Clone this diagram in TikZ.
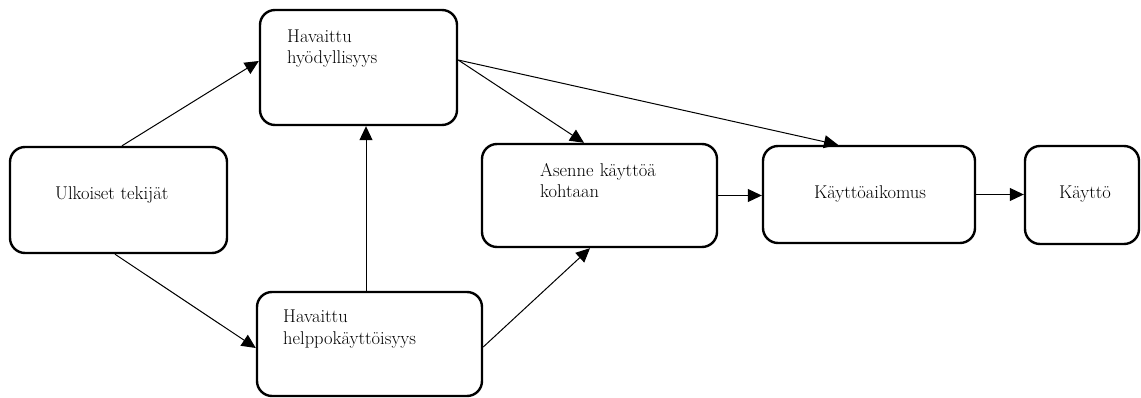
\documentclass[tikz,border=0pt]{standalone}
\usepackage{fontspec}
\setmainfont{Latin Modern Roman}
\usetikzlibrary{arrows.meta,calc}
\begin{document}
\begin{tikzpicture}[x=1pt,y=-1pt,
  box/.style={draw,line width=2.4pt,rounded corners=15pt,rectangle,inner sep=0pt},
  lbl/.style={inner sep=0pt,font=\fontsize{18.5}{21}\selectfont},
  mlbl/.style={lbl,text width=200pt,align=left,anchor=base west},
  conn/.style={line width=1pt,-{Triangle[length=14pt,width=13pt]}}]
\useasboundingbox (0,0) rectangle (1141,398);
\node[box,minimum width=217pt,minimum height=106pt] (U) at (118.5,200) {};
\node[box,minimum width=197pt,minimum height=115pt] (H) at (358.5,67.5) {};
\node[box,minimum width=225pt,minimum height=104pt] (E) at (369.5,344) {};
\node[box,minimum width=235pt,minimum height=103pt] (A) at (599.5,195.5) {};
\node[box,minimum width=212pt,minimum height=97pt] (K) at (869,194.5) {};
\node[box,minimum width=114pt,minimum height=98pt] (KK) at (1082,195) {};
\node[lbl,anchor=base west] (tU) at (55,200) {Ulkoiset tekijät};
\node[mlbl] (tH) at (287,43) {Havaittu\\hyödyllisyys};
\node[mlbl] (tE) at (283,323) {Havaittu\\helppokäyttöisyys};
\node[mlbl] (tA) at (540,177) {Asenne käyttöä\\kohtaan};
\node[lbl,anchor=base] (tK) at (870,199) {Käyttöaikomus};
\node[lbl,anchor=base] (tKK) at (1085,199) {Käyttö};
\coordinate (hs) at ([yshift=7.5pt]H.east);
\draw[conn] ([xshift=3.5pt]U.north) -- ([yshift=6.5pt]H.west);
\draw[conn] ([xshift=-3.5pt]U.south) -- ([yshift=-4pt]E.west);
\draw[conn] ([xshift=-3.5pt]E.north) -- ([xshift=-3.5pt]E.north |- H.south);
\draw[conn] ([yshift=-3pt]E.east) -- ([xshift=-9.5pt]A.south);
\draw[conn] (hs) -- ([xshift=-15.5pt]A.north);
\draw[conn] (hs) -- ([xshift=-31pt]K.north);
\draw[conn] (A.east) -- (A.east -| K.west);
\draw[conn] (K.east) -- (K.east -| KK.west);
\end{tikzpicture}
\end{document}
